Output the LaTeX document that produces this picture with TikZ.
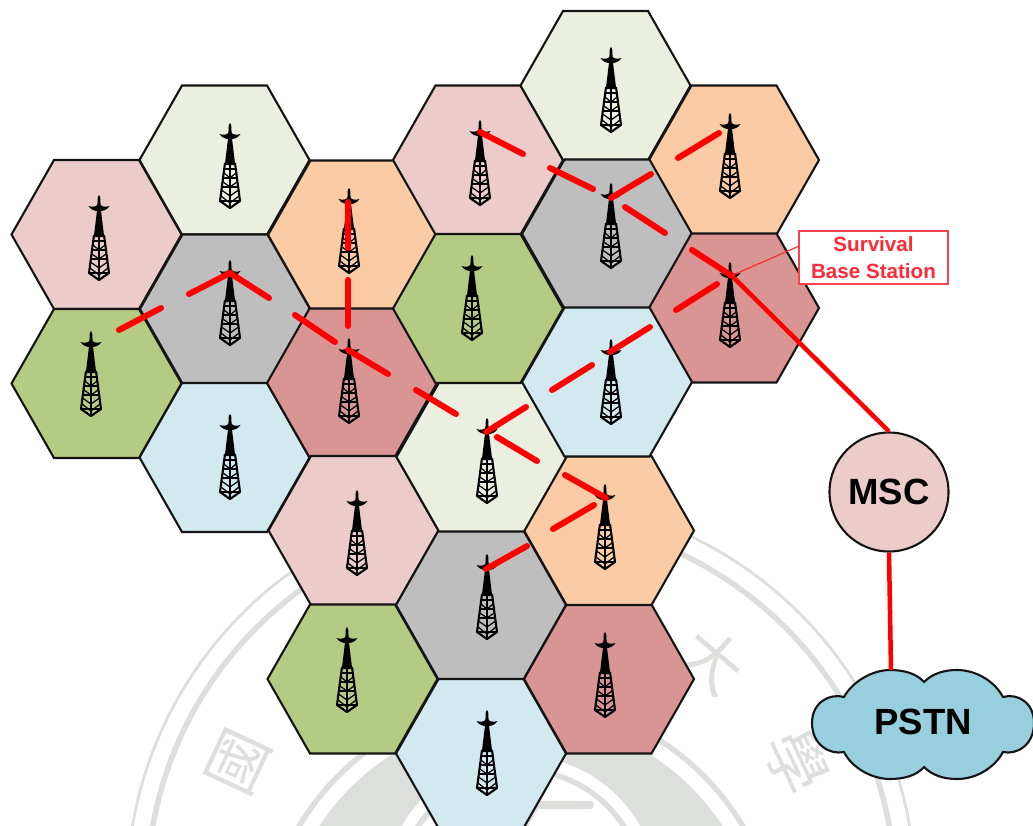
\documentclass[tikz,border=0pt]{standalone}
\usepackage{fontspec}
\setmainfont{Liberation Sans}
\newfontfamily\cjkfont{Noto Sans CJK TC}
\definecolor{cPink}{HTML}{EBCCCB}
\definecolor{cPale}{HTML}{EBEFDF}
\definecolor{cOrange}{HTML}{FACBA5}
\definecolor{cGrey}{HTML}{BEBEBE}
\definecolor{cRed}{HTML}{D99593}
\definecolor{cGreen}{HTML}{B5CA83}
\definecolor{cBlue}{HTML}{D1E9EF}
\definecolor{cCloud}{HTML}{98CFDD}
\definecolor{cMark}{HTML}{DDDFDD}
\definecolor{cLink}{HTML}{FF0000}
\definecolor{cEdge}{HTML}{141414}
\definecolor{cNote}{HTML}{FF2A36}
\definecolor{cNoteEdge}{HTML}{FF4050}
\tikzset{
  hexcell/.style={draw=cEdge,line width=2.1pt,line join=miter},
  linkseg/.style={draw=cLink,line width=6pt,line cap=round},
  trunk/.style={draw=cLink,line width=4.5pt},
  markthin/.style={draw=cMark,line width=2.8pt},
  markthick/.style={draw=cMark,line width=5.5pt},
  marktext/.style={text=cMark,font=\cjkfont\fontsize{62}{62}\selectfont,inner sep=0pt},
  lat/.style={draw=black,line width=1.5pt,line join=round},
  bigtext/.style={font=\fontsize{36.5}{38}\selectfont\bfseries,text=black,inner sep=0pt},
}
\newcommand\hexcell[4]{%
  \coordinate (#1) at (#2,#3);
  \begin{scope}[shift={(#2,#3)}]
    \filldraw[hexcell,fill=#4] (-85,0) -- (-42.5,-74.5) -- (42.5,-74.5) -- (85,0) -- (42.5,74.5) -- (-42.5,74.5) -- cycle;
  \end{scope}}
\newcommand\towerat[2]{%
  \begin{scope}[shift={(#1,#2)}]
    \fill[black] (-1.2,2) -- (0,0) -- (1.2,2) -- (1.8,14) -- (5.2,42) -- (-5.2,42) -- (-1.8,14) -- cycle;
    \fill[black] (-1,16) .. controls (-4,16) and (-8,15) .. (-10.5,11) .. controls (-7,12) and (-4,12.5) .. (-1,9.5) -- cycle;
    \fill[black] (1,16) .. controls (4,16) and (8,15) .. (10.5,11) .. controls (7,12) and (4,12.5) .. (1,9.5) -- cycle;
    \draw[lat,line width=2.1pt] (-5,40) -- (-10,78) -- (0,85) -- (10,78) -- (5,40);
    \draw[lat] (0,40) -- (0,84);
    \draw[lat] (-5.5,46) -- (5.5,46) (-7,55) -- (7,55) (-8,64) -- (8,64) (-10,78) -- (10,78);
    \draw[lat,line width=1.2pt] (-6,50) -- (0,55) -- (6,50) (-7,59) -- (0,64) -- (7,59) (-8.5,67) -- (0,73) -- (8.5,67) (-9,73) -- (0,80) -- (9,73);
  \end{scope}}
\newcommand\seg[5]{%
  \coordinate (#1a) at (#2,#3);
  \coordinate (#1b) at (#4,#5);
  \draw[linkseg] (#1a) -- (#1b);}
\begin{document}
\begin{tikzpicture}[x=1pt,y=-1pt]
\useasboundingbox (0,0) rectangle (1033,825);
\clip (0,0) rectangle (1033,825);
\fill[white] (0,0) rectangle (1033,825);
% watermark seal
\coordinate (sealA) at (521,892);
\coordinate (sealB) at (521,958);
\draw[markthin] (sealA) circle[radius=394];
\draw[markthick] (sealA) circle[radius=374];
\fill[cMark] (sealB) circle[radius=241];
\draw[markthick] (sealB) circle[radius=258];
\fill[white] (sealA) circle[radius=136];
\draw[markthick] (sealA) circle[radius=122];
\draw[markthick,line width=8pt,line cap=round] (470,805) -- (590,805);
\draw[markthick,line width=4pt] (536,808) -- (526,826);
\node[marktext,rotate=65] (markA) at (239,762) {國};
\node[marktext,rotate=-40] (markB) at (712,660) {大};
\node[marktext,rotate=-65] (markC) at (797,762) {學};
% cells
\hexcell{h1}{96.5}{234.5}{cPink}
\hexcell{h2}{224.5}{160}{cPale}
\hexcell{h3}{353}{235}{cOrange}
\hexcell{h4}{225}{309}{cGrey}
\hexcell{h5}{96.5}{383.5}{cGreen}
\hexcell{h6}{224.5}{457.5}{cBlue}
\hexcell{h7}{352}{383}{cRed}
\hexcell{h8}{353.5}{530.5}{cPink}
\hexcell{h9}{352.5}{679}{cGreen}
\hexcell{h10}{481}{605}{cGrey}
\hexcell{h11}{481}{753.5}{cBlue}
\hexcell{h12}{609}{679}{cRed}
\hexcell{h13}{609}{530.5}{cOrange}
\hexcell{h14}{481.5}{457}{cPale}
\hexcell{h15}{478}{160}{cPink}
\hexcell{h16}{605.5}{85.5}{cPale}
\hexcell{h17}{734}{160}{cOrange}
\hexcell{h18}{607}{234}{cGrey}
\hexcell{h19}{734}{308}{cRed}
\hexcell{h20}{607}{382}{cBlue}
\hexcell{h21}{478}{308.5}{cGreen}
% towers
\towerat{99}{195}
\towerat{230}{123}
\towerat{349}{188}
\towerat{230}{260}
\towerat{91}{331}
\towerat{349}{338}
\towerat{230}{414}
\towerat{357}{490}
\towerat{487}{418}
\towerat{347}{627}
\towerat{487}{554}
\towerat{605}{484}
\towerat{605}{632}
\towerat{487}{710}
\towerat{480}{120}
\towerat{611}{47}
\towerat{730}{113}
\towerat{611}{183}
\towerat{472}{255}
\towerat{730}{262}
\towerat{611}{339}
% red links
\seg{a}{480}{132}{523}{154}
\seg{b}{550}{168}{593}{189}
\seg{c}{611}{198}{651}{174}
\seg{d}{625}{207}{665}{233}
\seg{e}{678}{158}{719}{133}
\seg{f}{692}{250}{732}{276}
\seg{g}{717}{284}{676}{310}
\seg{i}{119}{330}{161}{308}
\seg{j}{189}{294}{230}{273}
\seg{k}{230}{273}{269}{298}
\seg{l}{295}{315}{335}{342}
\seg{m}{348}{350}{388}{374}
\seg{n}{416}{390}{456}{414}
\seg{o}{348}{202}{348}{248}
\seg{p}{348}{280}{348}{326}
\seg{q}{650}{327}{610}{352}
\seg{r}{592}{365}{552}{390}
\seg{s}{526}{407}{486}{432}
\seg{t}{497}{437}{537}{461}
\seg{u}{565}{475}{606}{498}
\seg{v}{594}{505}{553}{529}
\seg{w}{527}{546}{486}{569}
% network nodes
\node[circle,draw=cEdge,line width=2.1pt,fill=cPink,minimum size=119pt,inner sep=0pt,bigtext] (msc) at (889,492) {MSC};
\filldraw[fill=cCloud,draw=cEdge,line width=2.1pt]
  (844,697) .. controls (830,693) and (812,702) .. (812,723)
  .. controls (812,745) and (830,755) .. (844,752)
  .. controls (852,768) and (872,779) .. (890,779)
  .. controls (905,779) and (917,775) .. (924,767)
  .. controls (932,775) and (943,779) .. (957,779)
  .. controls (977,779) and (995,767) .. (1003,752)
  .. controls (1017,755) and (1034,745) .. (1034,723)
  .. controls (1034,702) and (1017,693) .. (1003,697)
  .. controls (995,682) and (977,670) .. (957,670)
  .. controls (943,670) and (932,674) .. (924,682)
  .. controls (917,674) and (905,670) .. (890,670)
  .. controls (872,670) and (852,682) .. (844,697) -- cycle;
\node[bigtext] (pstn) at (923,722) {PSTN};
\coordinate (pstnTop) at (891,670);
\draw[trunk] (fb) -- (msc.north);
\draw[trunk] (msc.south) -- (pstnTop);
% callout
\node[fill=white,text=cNote,align=center,minimum width=148pt,minimum height=52pt,inner sep=0pt,font=\fontsize{20.6}{26}\selectfont\bfseries] (callout) at (873.5,257.5) {\raisebox{1.5pt}{Survival}\\Base Station};
\draw[draw=cNoteEdge,line width=1.8pt] (callout.north west) rectangle (callout.south east);
\coordinate (calloutFoot) at (733,275);
\draw[draw=cNote,line width=1.2pt] (callout.west |- 0,246) -- (calloutFoot);
\end{tikzpicture}
\end{document}
